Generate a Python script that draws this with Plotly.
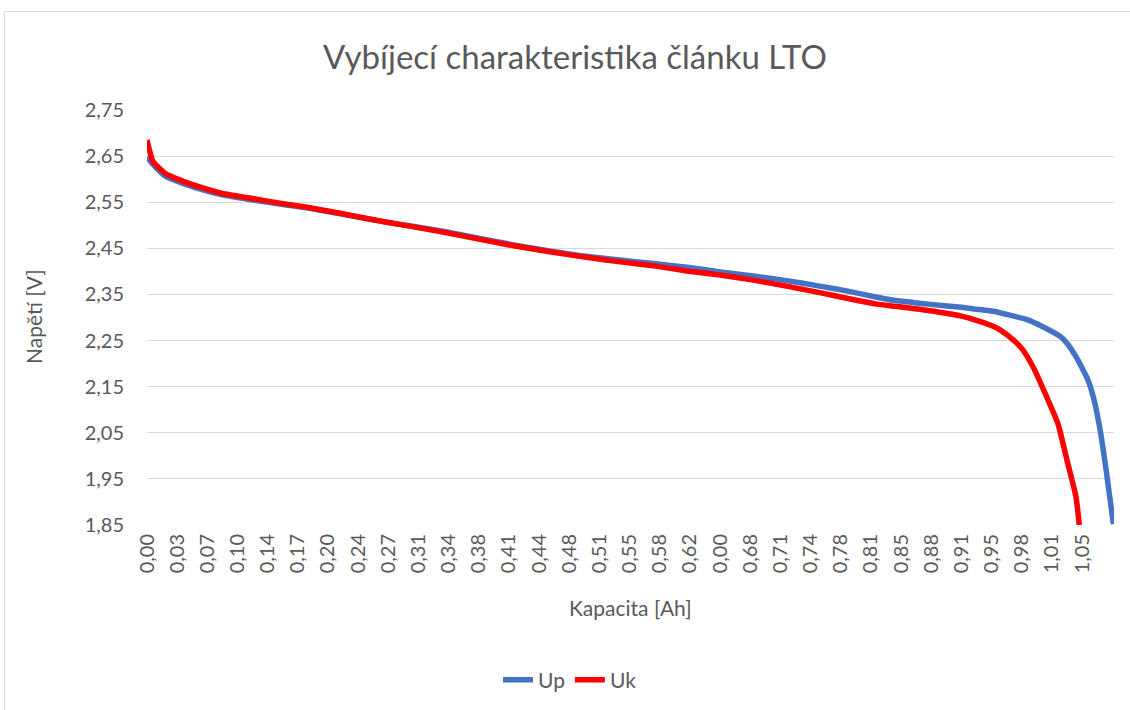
import plotly.graph_objects as go

# category tick labels (Excel category axis, capacity in Ah)
kapacita_labels = ["0,00", "0,03", "0,07", "0,10", "0,14", "0,17", "0,20", "0,24",
                   "0,27", "0,31", "0,34", "0,38", "0,41", "0,44", "0,48", "0,51",
                   "0,55", "0,58", "0,62", "0,00", "0,68", "0,71", "0,74", "0,78",
                   "0,81", "0,85", "0,88", "0,91", "0,95", "0,98", "1,01", "1,05"]
label_pos = list(range(len(kapacita_labels)))

# Up series (position on category axis, voltage)
up_x = [0.0, 0.2, 0.6, 1.1, 1.8, 2.5, 3.4, 4.4, 5.3, 6.4, 7.5, 8.0, 8.8, 9.9, 11.0,
        12.2, 13.3, 14.4, 15.9, 16.8, 17.9, 19.0, 20.1, 21.2, 22.3, 23.4, 24.2,
        24.7, 25.9, 27.0, 27.5, 28.1, 28.6, 29.2, 29.7, 30.3, 30.5, 30.8, 31.2, 31.4,
        31.6, 31.8, 32.04]
up_y = [2.648, 2.632, 2.607, 2.593, 2.578, 2.566, 2.556, 2.546, 2.538, 2.525, 2.512,
        2.506, 2.498, 2.486, 2.472, 2.457, 2.445, 2.434, 2.423, 2.417, 2.409, 2.399,
        2.390, 2.380, 2.368, 2.355, 2.344, 2.338, 2.329, 2.322, 2.318, 2.313,
        2.305, 2.295, 2.280, 2.258, 2.244, 2.215, 2.164, 2.121, 2.056, 1.969, 1.852]

# Uk series
uk_x = [0.0, 0.2, 0.6, 1.1, 1.8, 2.5, 3.4, 4.4, 5.3, 6.4, 7.5, 8.0, 8.8, 9.9, 11.0,
        12.2, 13.3, 14.4, 15.9, 16.8, 17.9, 19.0, 20.1, 21.2, 22.3, 23.4, 24.2,
        24.7, 25.9, 27.0, 27.5, 28.1, 28.6, 29.0, 29.4, 29.8, 30.2, 30.5, 30.8, 30.91]
uk_y = [2.685, 2.638, 2.613, 2.598, 2.582, 2.569, 2.559, 2.548, 2.539, 2.526, 2.512,
        2.506, 2.497, 2.484, 2.470, 2.455, 2.443, 2.432, 2.419, 2.412, 2.401, 2.392,
        2.381, 2.368, 2.354, 2.339, 2.329, 2.325, 2.315, 2.303, 2.294, 2.280,
        2.258, 2.233, 2.190, 2.132, 2.070, 1.991, 1.911, 1.850]

y_ticks = [1.85, 1.95, 2.05, 2.15, 2.25, 2.35, 2.45, 2.55, 2.65, 2.75]

W, H = 1130, 710
L, R, T, B = 147, 16, 110, 185
PW, PH = W - L - R, H - T - B

fig = go.Figure()
fig.add_trace(go.Scatter(x=up_x, y=up_y, mode="lines", name="Up",
                         line=dict(color="#4472C4", width=5.5, shape="spline", smoothing=0.5)))
fig.add_trace(go.Scatter(x=uk_x, y=uk_y, mode="lines", name="Uk",
                         line=dict(color="#FF0000", width=5.5, shape="spline", smoothing=0.5)))

font_family = "Lato, Open Sans, sans-serif"
grey = "#595959"
fig.update_layout(
    width=W, height=H,
    margin=dict(l=L, r=R, t=T, b=B, autoexpand=False),
    paper_bgcolor="white", plot_bgcolor="white",
    separators=", ",
    font=dict(family=font_family, color=grey, size=20),
    title=dict(text="Vybíjecí charakteristika článku LTO", x=575 / W, xref="container",
               xanchor="center", y=1 - 57 / H, yref="container", yanchor="middle",
               font=dict(size=33, color=grey, family=font_family)),
    xaxis=dict(range=[0, 32.06], tickmode="array", tickvals=label_pos,
               ticktext=kapacita_labels, tickangle=-90, showgrid=False, zeroline=False,
               showline=False, ticks="", automargin=False, ticklabelstandoff=4,
               tickfont=dict(size=20, color=grey)),
    yaxis=dict(range=[1.85, 2.75], tickmode="array", tickvals=y_ticks, tickformat=".2f",
               showgrid=True, gridcolor="#D9D9D9", gridwidth=1, zeroline=False,
               showline=False, ticks="", automargin=False, ticklabelstandoff=22,
               tickfont=dict(size=20, color=grey)),
    legend=dict(orientation="h", x=(570 - L) / PW, xanchor="center",
                y=-(680 - (H - B)) / PH, yanchor="middle",
                font=dict(size=21, color=grey)),
    showlegend=True,
)

# axis titles
fig.add_annotation(text="Kapacita [Ah]", xref="paper", yref="paper",
                   x=(630 - L) / PW, y=-(607 - (H - B)) / PH, showarrow=False,
                   xanchor="center", yanchor="middle", font=dict(size=21, color=grey))
fig.add_annotation(text="Napětí [V]", xref="paper", yref="paper",
                   x=-(L - 33) / PW, y=(H - B - 317) / PH, showarrow=False, textangle=-90,
                   xanchor="center", yanchor="middle", font=dict(size=21, color=grey))

# chart-area border
fig.add_shape(type="rect", xref="paper", yref="paper",
              x0=(4.5 - L) / PW, x1=(1180 - L) / PW,
              y0=-(H + 40 - (H - B)) / PH, y1=1 + (T - 11.5) / PH,
              line=dict(color="#D9D9D9", width=1), fillcolor="rgba(0,0,0,0)", layer="below")

fig.write_html("out.html", config={"displayModeBar": False},
               post_script="document.body.style.margin='0';document.body.style.overflow='hidden';")
